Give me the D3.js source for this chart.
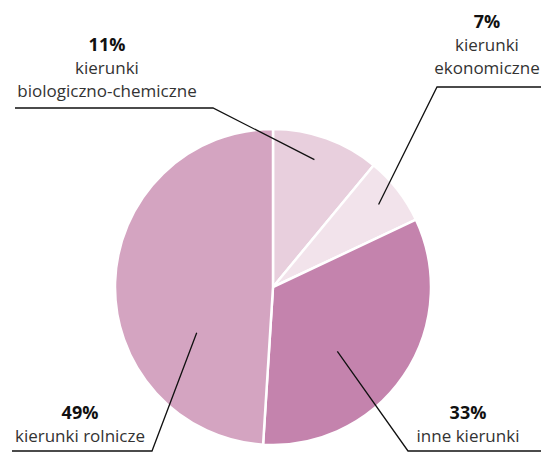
<!DOCTYPE html>
<html>
<head>
<meta charset="utf-8">
<script src="https://cdn.jsdelivr.net/npm/d3@7"></script>
<style>
  body { margin: 0; background: #fff; }
  svg { display: block; }
  text { font-family: "Open Sans", "Noto Sans", sans-serif; }
</style>
</head>
<body>
<svg id="chart" width="541" height="470"></svg>
<script>
// data
const categories = ["kierunki\nbiologiczno-chemiczne", "kierunki\nekonomiczne", "inne kierunki", "kierunki rolnicze"];
const shares = [11, 7, 33, 49];
const colors = ["#e8cfdd", "#f2e3eb", "#c483ad", "#d4a4c1"];

// label layout (pixel positions of text blocks and leader lines)
const labelLayout = [
  { tx: 107, ty: 51, anchorAng: 18, anchorR: 134, elbow: [213, 108], end: [15, 108] },
  { tx: 487, ty: 28, anchorAng: 52, anchorR: 134, elbow: [437, 87], end: [541, 87] },
  { tx: 468, ty: 419, anchorAng: 135, anchorR: 91, elbow: [408, 451], end: [541, 451] },
  { tx: 80, ty: 419, anchorAng: 239, anchorR: 89, elbow: [152, 451], end: [12, 451] }
];

const svg = d3.select("#chart");
const cx = 273, cy = 287, radius = 158;

const pie = d3.pie().sort(null).value(d => d);
const arcs = pie(shares);
const arc = d3.arc().innerRadius(0).outerRadius(radius);

const g = svg.append("g").attr("transform", `translate(${cx},${cy})`);

g.selectAll("path")
  .data(arcs)
  .join("path")
  .attr("d", arc)
  .attr("fill", (d, i) => colors[i])
  .attr("stroke", "#fff")
  .attr("stroke-width", 2.5)
  .attr("stroke-linejoin", "round");

// leader lines
labelLayout.forEach((L, i) => {
  const a = L.anchorAng * Math.PI / 180;
  const ax = cx + L.anchorR * Math.sin(a);
  const ay = cy - L.anchorR * Math.cos(a);
  svg.append("polyline")
    .attr("points", [[ax, ay], L.elbow, L.end].map(p => p.join(",")).join(" "))
    .attr("fill", "none")
    .attr("stroke", "#111")
    .attr("stroke-width", 1.3);
});

// labels
labelLayout.forEach((L, i) => {
  const t = svg.append("text")
    .attr("x", L.tx)
    .attr("y", L.ty)
    .attr("text-anchor", "middle")
    .attr("font-size", 17);
  t.append("tspan")
    .attr("x", L.tx)
    .attr("font-weight", "bold")
    .attr("font-size", 18)
    .attr("fill", "#111")
    .text(shares[i] + "%");
  categories[i].split("\n").forEach((line) => {
    t.append("tspan")
      .attr("x", L.tx)
      .attr("dy", 23)
      .attr("fill", "#333")
      .text(line);
  });
});
</script>
</body>
</html>
